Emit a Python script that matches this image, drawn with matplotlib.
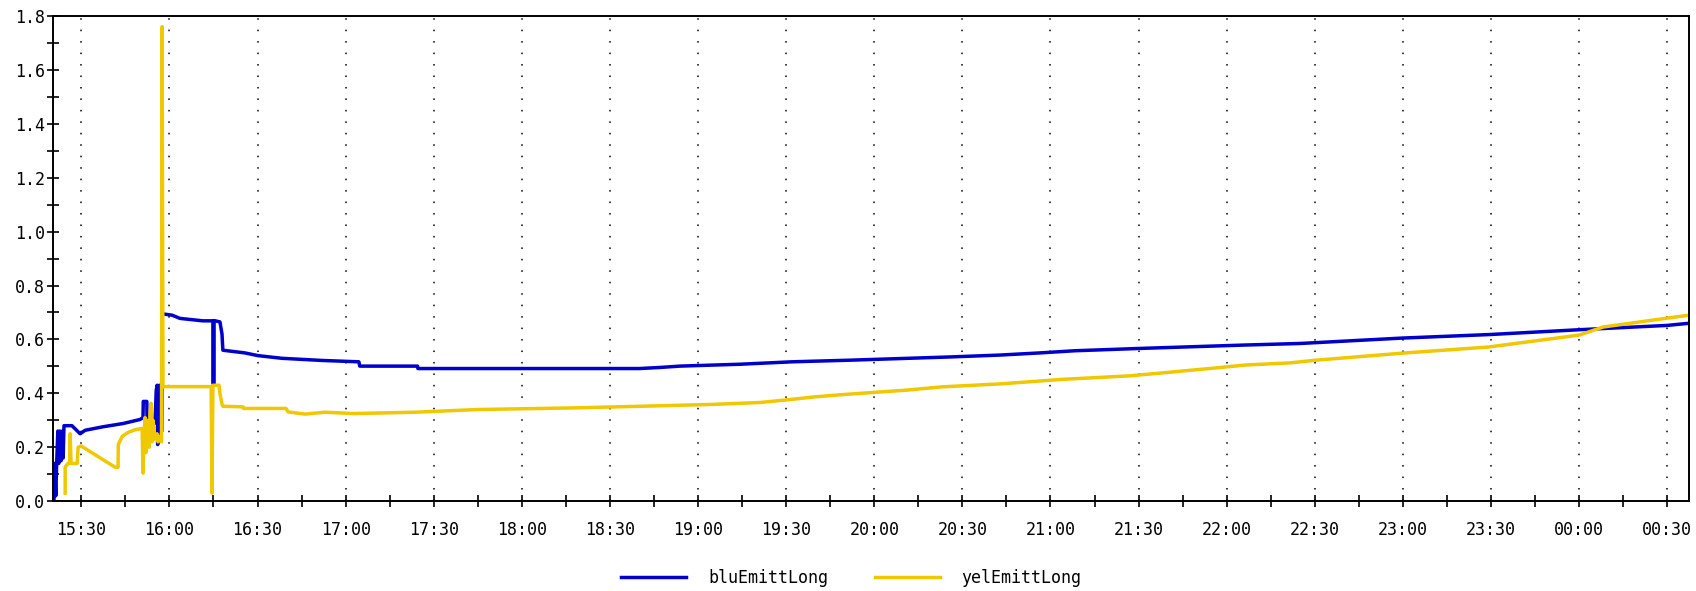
import datetime as dt

import matplotlib
matplotlib.use("Agg")
from matplotlib import pyplot as plt
import matplotlib.dates as mdates

# minutes after 15:00
blu_min = [20.7, 20.9, 21.3, 21.6, 22.0, 22.3, 22.7, 23.1, 23.5, 23.8, 24.1,
           26.8, 29.6, 31.3, 37.4, 44.2, 50.0, 51.0, 51.1, 52.3, 52.4, 52.7,
           55.1, 55.5, 55.8, 56.0, 56.1, 56.6, 56.8, 57.4, 57.5, 60.9, 63.6,
           71.4, 74.8, 74.8, 75.2, 75.2, 77.2, 77.9, 78.2, 85.7, 90.1, 98.3,
           112.0, 124.5, 124.8, 144.5, 144.6, 220.0, 227.0, 233.8, 254.3,
           272.0, 291.7, 325.8, 342.8, 356.4, 368.3, 391.5, 425.6, 445.0,
           479.7, 509.3, 540.0, 570.0, 577.5]
blu_val = [0.01, 0.14, 0.02, 0.14, 0.26, 0.14, 0.26, 0.15, 0.26, 0.16, 0.28,
           0.28, 0.25, 0.263, 0.276, 0.288, 0.303, 0.31, 0.37, 0.37, 0.27, 0.29,
           0.29, 0.41, 0.43, 0.21, 0.42, 0.43, 0.26, 0.26, 0.695, 0.69, 0.678,
           0.669, 0.669, 0.437, 0.437, 0.67, 0.665, 0.62, 0.56, 0.55, 0.54, 0.53,
           0.522, 0.517, 0.501, 0.501, 0.492, 0.492, 0.496, 0.501, 0.508,
           0.517, 0.523, 0.535, 0.542, 0.550, 0.558, 0.567, 0.579, 0.585,
           0.605, 0.618, 0.636, 0.652, 0.66]

yel_min = [24.5, 24.5, 25.5, 26.0, 26.2, 26.5, 28.6, 28.9, 29.9, 41.5, 42.5,
           42.6, 43.9, 45.9, 48.3, 50.7, 51.0, 51.4, 51.7, 52.0, 52.4, 53.1,
           53.4, 53.7, 54.1, 54.4, 55.1, 55.8, 56.1, 56.8, 57.3, 57.5, 57.8,
           74.2, 74.5, 74.8, 76.9, 77.2, 77.9, 78.2, 85.0, 85.3, 99.7, 100.4,
           106.2, 113.0, 122.8, 143.6, 165.1, 197.7, 220.2, 245.0, 261.1,
           271.3, 279.8, 290.0, 311.1, 323.0, 342.8, 364.3, 387.1, 398.3,
           417.0, 426.3, 441.6, 450.4, 479.7, 509.3, 540.0, 548.2, 570.0, 577.5]
yel_val = [0.03, 0.127, 0.14, 0.14, 0.25, 0.14, 0.14, 0.20, 0.205, 0.126, 0.126,
           0.21, 0.24, 0.255, 0.265, 0.27, 0.104, 0.25, 0.31, 0.18, 0.30, 0.20,
           0.33, 0.363, 0.22, 0.30, 0.23, 0.25, 0.22, 0.24, 0.22, 1.76, 0.425,
           0.425, 0.03, 0.43, 0.43, 0.40, 0.36, 0.352, 0.35, 0.344, 0.344, 0.331,
           0.323, 0.33, 0.325, 0.33, 0.34, 0.346, 0.352, 0.359, 0.366,
           0.377, 0.387, 0.396, 0.412, 0.424, 0.435, 0.452, 0.465, 0.476,
           0.495, 0.505, 0.513, 0.523, 0.549, 0.572, 0.616, 0.646, 0.679, 0.69]

base = dt.datetime(2000, 1, 1, 15, 0)
def to_time(mins):
    return [base + dt.timedelta(minutes=m) for m in mins]

plt.rcParams['font.family'] = 'DejaVu Sans Mono'

fig = plt.figure(figsize=(16.96, 5.91), dpi=100)
ax = fig.add_axes([0.0315, 0.152, 0.9645, 0.821])

ax.plot(to_time(blu_min), blu_val, color='#0000cc', lw=2.5, label='bluEmittLong')
ax.plot(to_time(yel_min), yel_val, color='#f0c800', lw=2.5, label='yelEmittLong')

ax.set_xlim(base + dt.timedelta(minutes=20.5), base + dt.timedelta(minutes=577.5))
ax.set_ylim(0, 1.8)

ax.xaxis.set_major_locator(mdates.MinuteLocator(byminute=[0, 30]))
ax.xaxis.set_minor_locator(mdates.MinuteLocator(byminute=[15, 45]))
ax.xaxis.set_major_formatter(mdates.DateFormatter('%H:%M'))
ax.set_yticks([i * 0.2 for i in range(10)])
ax.set_yticks([i * 0.1 for i in range(19)], minor=True)
ax.yaxis.set_major_formatter(matplotlib.ticker.FormatStrFormatter('%.1f'))

ax.tick_params(which='both', direction='inout', length=8, width=1.2, labelsize=12)
ax.tick_params(axis='x', pad=10)
ax.tick_params(axis='y', pad=2)

ax.grid(axis='x', which='major', color='black', linestyle=(0, (1, 6.5)), lw=1.1)
for s in ax.spines.values():
    s.set_linewidth(1.4)

fig.legend(loc='center', bbox_to_anchor=(0.502, 0.022), ncol=2, frameon=False,
           fontsize=12, handlelength=3.9, handletextpad=1.3, columnspacing=2.8)

fig.savefig('out.png', dpi=100)
